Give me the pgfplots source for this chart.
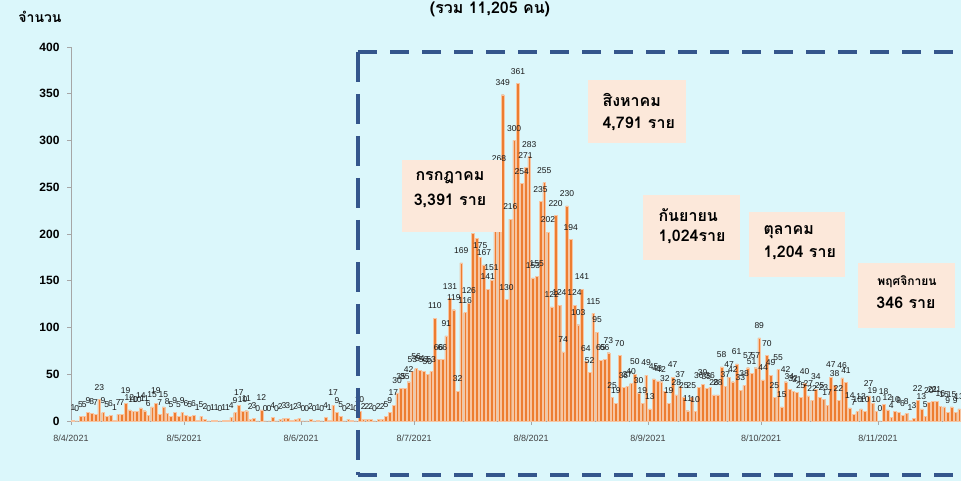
\documentclass[border=0pt]{standalone}
\usepackage{fontspec}
\setmainfont{Liberation Sans}
\newfontfamily\thai[Script=Thai]{Loma}
\usepackage{pgfplots}
\pgfplotsset{compat=1.18}
\definecolor{bg}{RGB}{219,247,251}
\definecolor{barorange}{RGB}{237,125,49}
\definecolor{boxfill}{RGB}{252,232,218}
\definecolor{dashblue}{RGB}{52,86,140}
\begin{document}
\begin{tikzpicture}[x=1pt,y=1pt]
\useasboundingbox (0,0) rectangle (961,481);
\fill[bg] (0,0) rectangle (961,481);
\begin{axis}[
  at={(71pt,60pt)}, anchor=south west,
  scale only axis, width=890pt, height=374pt,
  xmin=-0.5, xmax=235.5, ymin=0, ymax=400,
  ybar, bar width=2.7pt,
  axis x line*=bottom, axis y line*=left,
  axis line style={gray!70},
  ytick={0,50,...,400},
  xtick={-0.5,29.5,60.5,90.5,121.5,152.5,182.5,213.5},
  xticklabels={8/4/2021,8/5/2021,8/6/2021,8/7/2021,8/8/2021,8/9/2021,8/10/2021,8/11/2021},
  x tick label style={font=\fontsize{9}{9}\selectfont, text=black!75, yshift=-6pt},
  y tick label style={font=\bfseries\fontsize{12}{12}\selectfont, xshift=-4pt},
  tick style={gray!70, line width=0.5pt}, major tick length=4pt, tick align=outside,
  /pgf/number format/assume math mode=true,
  nodes near coords,
  every node near coord/.append style={font=\fontsize{8.5}{8.5}\selectfont, text=black!90, inner sep=0pt, yshift=9pt},
  clip=false,
]
\addplot[fill=barorange, draw=barorange!45!white, line width=0.35pt] coordinates {
(0,1)(1,0)(2,5)(3,5)(4,9)(5,8)(6,7)(7,23)(8,9)(9,5)(10,6)(11,1)(12,7)(13,7)(14,19)(15,12)(16,10)(17,10)(18,14)(19,11)(20,6)(21,15)(22,19)
(23,7)(24,15)(25,8)(26,5)(27,9)(28,5)(29,9)(30,6)(31,5)(32,6)(33,1)(34,5)(35,2)(36,0)(37,1)(38,1)(39,0)(40,1)(41,1)(42,4)(43,9)(44,17)(45,10)(46,11)(47,2)(48,3)(49,0)(50,12)(51,0)(52,0)(53,4)
(54,0)(55,2)(56,3)(57,3)(58,1)(59,2)(60,3)(61,0)(62,0)(63,2)(64,0)(65,1)(66,0)(67,4)(68,1)(69,17)(70,9)(71,5)(72,0)(73,2)(74,1)(75,0)(76,10)(77,2)(78,2)(79,2)(80,0)(81,2)(82,2)(83,5)
(84,9)(85,17)(86,30)(87,35)(88,35)(89,42)(90,53)(91,56)(92,54)(93,53)(94,50)(95,53)(96,110)(97,66)(98,66)(99,91)(100,131)(101,119)(102,32)(103,169)(104,116)(105,126)(106,201)(107,195)(108,175)(109,167)(110,141)(111,151)(112,231)(113,268)(114,349)
(115,130)(116,216)(117,300)(118,361)(119,254)(120,271)(121,283)(122,153)(123,155)(124,235)(125,255)(126,202)(127,122)(128,220)(129,124)(130,74)(131,230)(132,194)(133,124)(134,103)(135,141)(136,64)(137,52)(138,115)(139,95)(140,65)(141,66)(142,73)(143,25)(144,19)(145,70)
(146,36)(147,37)(148,40)(149,50)(150,30)(151,19)(152,49)(153,13)(154,45)(155,43)(156,42)(157,32)(158,19)(159,47)(160,28)(161,37)(162,25)(163,11)(164,25)(165,10)(166,36)(167,39)(168,35)(169,36)(170,28)(171,28)(172,58)(173,37)(174,47)(175,42)
(176,61)(177,33)(178,38)(179,57)(180,51)(181,57)(182,89)(183,44)(184,70)(185,49)(186,25)(187,55)(188,15)(189,42)(190,34)(191,32)(192,31)(193,25)(194,40)(195,27)(196,22)(197,34)(198,25)(199,23)(200,17)(201,47)(202,38)(203,22)(204,46)(205,41)(206,14)
(207,7)(208,10)(209,13)(210,10)(211,27)(212,19)(213,10)(214,0)(215,18)(216,12)(217,4)(218,10)(219,9)(220,6)(221,8)(222,1)(223,3)(224,22)(225,13)(226,5)(227,20)(228,21)(229,21)(230,16)(231,15)(232,9)(233,15)(234,9)(235,13)
};
\end{axis}
% titles
\node[font=\thai\bfseries\fontsize{16}{16}\selectfont] at (490,472) {(รวม 11,205 คน)};
\node[font=\thai\bfseries\fontsize{14}{14}\selectfont] at (40,464) {จำนวน};
% boxes
\fill[boxfill] (402,249) rectangle (502,321);
\node[font=\thai\bfseries\fontsize{16}{16}\selectfont] at (450,303) {กรกฎาคม};
\node[font=\thai\bfseries\fontsize{16}{16}\selectfont] at (450,280) {3,391 ราย};
\fill[boxfill] (588,338) rectangle (686,401);
\node[font=\thai\bfseries\fontsize{16}{16}\selectfont, anchor=west] at (599,381) {สิงหาคม};
\node[font=\thai\bfseries\fontsize{16}{16}\selectfont, anchor=west] at (599,357) {4,791 ราย};
\fill[boxfill] (643,221) rectangle (740,286);
\node[font=\thai\bfseries\fontsize{16}{16}\selectfont, anchor=west] at (655,266) {กันยายน};
\node[font=\thai\bfseries\fontsize{16}{16}\selectfont, anchor=west] at (655,244) {1,024ราย};
\fill[boxfill] (749,204) rectangle (845,269);
\node[font=\thai\bfseries\fontsize{16}{16}\selectfont, anchor=west] at (760,249) {ตุลาคม};
\node[font=\thai\bfseries\fontsize{16}{16}\selectfont, anchor=west] at (760,228) {1,204 ราย};
\fill[boxfill] (858,153) rectangle (955,218);
\node[font=\thai\bfseries\fontsize{12}{12}\selectfont] at (907,199) {พฤศจิกายน};
\node[font=\thai\bfseries\fontsize{16}{16}\selectfont] at (906,178) {346 ราย};
% dashed frame
\draw[dashblue, line width=3.5pt, dash pattern=on 19pt off 13pt] (358,429) -- (980,429);
\draw[dashblue, line width=3.5pt, dash pattern=on 19pt off 13pt] (358,6) -- (980,6);
\draw[dashblue, line width=3.5pt, dash pattern=on 30pt off 12pt] (358,429) -- (358,6);
\end{tikzpicture}
\end{document}
